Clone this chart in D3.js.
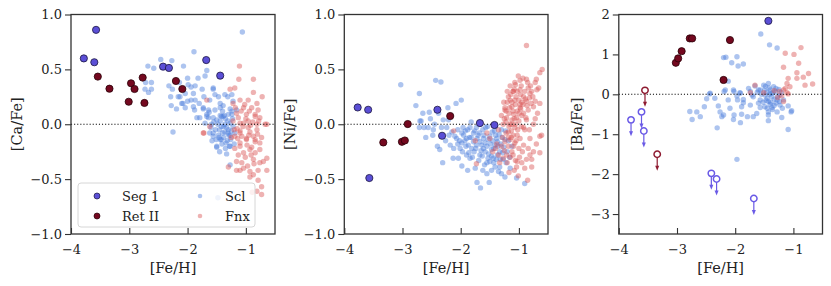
<!DOCTYPE html>
<html>
<head>
<meta charset="utf-8">
<script src="https://cdn.jsdelivr.net/npm/d3@7"></script>
<style>
  body { margin: 0; background: #fff; }
  text { font-family: "DejaVu Serif", serif; fill: #222; }
</style>
</head>
<body>
<div id="chart"></div>
<script>
// ---- data: [ [Fe/H], [X/Fe] ] ----
var fehTicks = [-4, -3, -2, -1];
var xfeTicks = [-1, -0.5, 0, 0.5, 1];
var baTicks = [-3, -2, -1, 0, 1, 2];

var caSeg1 = [[-3.78,0.60],[-3.57,0.86],[-3.60,0.565],[-2.42,0.525],[-2.32,0.513],[-1.68,0.585],[-1.44,0.443]];
var caRet2 = [[-3.54,0.434],[-3.34,0.324],[-2.97,0.373],[-2.91,0.321],[-2.77,0.425],[-3.01,0.205],[-2.74,0.194],[-2.20,0.394],[-2.09,0.321]];
var caScl = [
  [-1.06,0.84],[-1.89,0.66],[-2.46,0.59],[-2.27,0.58],[-2.68,0.53],[-2.58,0.51],[-2.07,0.53],[-1.67,0.49],
  [-2.72,0.38],[-2.62,0.38],[-2.73,0.32],[-2.62,0.32],[-2.67,0.29],[-2.32,0.35],[-2.26,0.32],[-2.14,0.38],
  [-2.0,0.42],[-1.82,0.42],[-1.94,0.34],[-1.75,0.32],[-2.29,0.25],[-2.13,0.25],[-1.94,0.22],[-2.28,0.17],
  [-2.08,0.19],[-2.04,0.15],[-1.87,0.22],[-1.80,0.19],[-1.72,0.25],[-1.56,0.33],[-1.47,0.25],[-1.31,0.25],
  [-1.88,0.13],[-1.73,0.14],[-1.63,0.11],[-1.79,0.06],[-1.64,0.06],[-1.44,0.15],[-1.37,0.08],[-1.50,0.04],
  [-1.24,0.12],[-1.16,0.13],[-2.25,-0.07],[-1.56,-0.08],[-1.44,-0.14],[-1.27,-0.20],
  [-1.99,0.36],[-1.87,0.35],[-1.70,0.44],[-1.56,0.32],[-2.16,0.25],[-2.04,0.28],[-1.90,0.28],[-2.0,0.21],
  [-2.10,0.19],[-2.19,0.14],[-1.90,0.16],[-1.73,0.15],[-1.62,0.22],[-1.53,0.27],[-1.44,0.19],[-1.36,0.27],
  [-1.24,0.27],[-1.53,0.13],[-1.39,0.17],[-1.27,0.14],[-1.64,0.13],[-1.67,0.07],[-1.39,0.07],[-1.84,0.06],
  [-1.24,0.09],[-1.22,0.21],
  [-1.67,0.09],[-1.56,0.06],[-1.42,0.07],[-1.30,0.09],[-1.70,0.01],[-1.59,0.0],[-1.44,0.03],[-1.36,0.0],
  [-1.27,0.01],[-1.62,-0.08],[-1.47,-0.10],[-1.36,-0.07],[-1.27,-0.10],[-1.30,-0.05],[-1.42,-0.14],[-1.50,-0.20],
  [-1.28,-0.20],[-1.27,-0.37],[-1.48,-0.67],[-1.56,-0.11],[-1.50,-0.21],
  [-1.45,-0.05],[-1.33,-0.03],[-1.25,-0.06],[-1.38,-0.12],[-1.32,-0.15],[-1.48,0.0],[-1.40,-0.08],[-1.29,-0.1],
  [-1.35,0.05],[-1.42,-0.02],[-1.52,-0.05],
  [-1.46,-0.12],[-1.41,-0.18],[-1.35,-0.22],[-1.31,-0.08],[-1.26,-0.14],[-1.22,-0.02],[-1.19,-0.08],[-1.34,-0.17],
  [-1.38,-0.02],[-1.44,0.08],[-1.51,-0.14],[-1.55,0.02],[-1.60,-0.03],[-1.20,-0.18],[-1.23,0.05],[-1.31,0.03],
  [-1.40,0.12],[-1.33,-0.27],[-1.45,-0.25],[-1.58,-0.15]
];
var caFnx = [
  [-1.11,0.53],[-1.12,0.41],[-0.87,0.41],[-1.27,0.32],[-1.19,0.33],[-0.87,0.29],[-0.72,0.25],[-1.10,0.22],
  [-0.96,0.22],[-0.81,0.19],[-1.22,0.19],[-1.67,0.22],[-1.04,0.15],[-0.90,0.15],[-0.79,0.13],[-1.16,0.10],
  [-0.99,0.09],[-0.84,0.07],[-0.67,0.0],[-0.81,0.0],[-0.96,0.03],[-1.10,0.01],[-1.22,0.03],[-1.72,-0.08],
  [-1.62,-0.02],[-1.10,-0.06],[-0.93,-0.07],[-1.19,-0.11],[-0.87,-0.11],[-0.73,-0.12],[-0.99,-0.14],[-1.10,-0.20],
  [-0.84,-0.16],[-0.84,0.09],[-0.76,0.06],[-0.64,0.0],[-1.04,0.01],[-1.13,0.06],[-0.96,-0.03],[-0.81,-0.05],
  [-1.10,-0.08],[-1.73,-0.08],[-0.99,-0.13],[-0.84,-0.14],[-0.76,-0.17],[-1.10,-0.17],[-1.19,-0.22],[-0.93,-0.23],
  [-0.76,-0.23],[-1.04,-0.26],[-1.13,-0.28],[-0.84,-0.26],[-1.16,-0.34],[-1.07,-0.35],[-1.30,-0.39],[-1.10,-0.42],
  [-0.93,-0.43],[-0.79,-0.42],[-0.64,-0.42],[-0.76,-0.35],[-1.04,-0.40],[-1.16,-0.42],[-0.87,-0.46],[-0.79,-0.51],
  [-0.73,-0.57],[-0.81,-0.61],[-0.93,-0.48],[-0.70,-0.34],[-0.87,-0.32],[-0.64,-0.31],[-0.89,-0.62],[-0.73,-0.64],
  [-1.05,-0.02],[-1.15,-0.04],[-1.0,0.05],[-0.92,-0.01],[-1.2,-0.05],[-1.08,0.12],[-0.95,-0.1],
  [-1.02,0.18],[-0.94,0.12],[-0.88,0.02],[-1.07,-0.11],[-0.98,-0.19],[-0.90,-0.21],[-0.80,-0.09],[-1.14,-0.13],
  [-1.25,-0.12],[-0.86,-0.36],[-0.97,-0.38],[-1.01,-0.30],[-0.91,-0.28],[-0.78,0.03],[-1.18,0.15]
];

var niSeg1 = [[-3.77,0.153],[-3.59,0.132],[-2.40,0.132],[-2.32,-0.105],[-1.67,0.011],[-1.42,-0.007],[-3.57,-0.49]];
var niRet2 = [[-3.33,-0.166],[-3.01,-0.16],[-2.96,-0.148],[-2.91,0.002],[-2.18,0.075]];
var niScl = [
  [-3.03,0.36],[-2.71,0.28],[-2.43,0.40],[-2.34,0.385],[-2.77,0.17],[-2.08,0.19],[-1.99,0.22],[-2.54,0.11],
  [-2.22,0.15],[-2.68,0.03],[-2.71,-0.03],[-2.63,-0.03],[-2.56,-0.03],[-2.48,-0.10],[-2.45,0.0],[-2.33,-0.03],
  [-2.21,0.04],[-2.30,0.04],[-2.70,0.03],[-2.47,-0.05],[-2.24,-0.03],[-2.15,-0.07],[-2.36,-0.23],[-2.31,-0.35],
  [-2.18,-0.19],[-2.07,-0.13],[-1.96,-0.03],[-1.90,-0.13],[-2.01,-0.22],[-2.04,-0.31],[-1.90,-0.28],[-1.78,-0.08],
  [-1.73,-0.19],[-1.81,-0.22],[-1.67,-0.28],[-1.55,-0.20],[-1.61,-0.13],[-1.50,-0.11],[-1.41,-0.19],[-1.33,-0.25],
  [-1.44,-0.31],[-1.55,-0.35],[-1.33,-0.39],[-1.27,-0.32],[-1.30,-0.05],[-1.24,-0.14],[-1.24,-0.48],[-1.55,-0.45],
  [-1.72,-0.53],[-1.66,-0.58],[-0.90,-0.54],[-1.84,-0.03],[-1.73,-0.03],[-2.10,-0.11],[-1.98,-0.17],[-1.87,-0.19],
  [-1.78,-0.16],[-1.67,-0.16],[-1.61,-0.22],[-1.47,-0.23],[-1.38,-0.13],[-1.84,-0.31],[-2.13,-0.31],[-1.50,-0.34],
  [-1.41,-0.39],[-1.35,-0.43],[-1.51,-0.53],[-1.04,-0.49],
  [-1.95,-0.10],[-1.85,-0.12],[-1.70,-0.10],[-1.62,-0.05],[-1.58,-0.17],[-1.45,-0.15],[-1.42,-0.06],[-1.36,-0.20],
  [-1.52,-0.27],[-1.65,-0.24],[-1.77,-0.25],[-1.92,-0.06],[-2.05,-0.18],[-1.28,-0.26],[-1.22,-0.35],[-1.39,-0.32],
  [-2.05,-0.05],[-1.98,-0.08],[-1.93,-0.15],[-1.88,-0.05],[-1.82,-0.12],[-1.76,-0.06],[-1.72,-0.13],[-1.68,-0.08],
  [-1.64,-0.19],[-1.60,-0.10],[-1.57,-0.03],[-1.53,-0.14],[-1.49,-0.18],[-1.46,-0.07],[-1.43,-0.22],[-1.40,-0.10],
  [-1.37,-0.16],[-1.34,-0.09],[-1.31,-0.18],[-1.29,-0.12],[-1.26,-0.21],[-1.23,-0.06],[-1.20,-0.25],[-1.18,-0.15],
  [-1.97,-0.25],[-1.91,-0.20],[-1.86,-0.26],[-1.80,-0.30],[-1.74,-0.22],[-1.69,-0.33],[-1.63,-0.29],[-1.58,-0.25],
  [-1.53,-0.31],[-1.47,-0.29],[-1.43,-0.35],[-1.37,-0.28],[-1.32,-0.32],[-2.02,-0.15],[-2.12,-0.22],[-2.20,-0.10],
  [-2.26,-0.15],[-1.75,-0.40],[-1.62,-0.42],[-1.47,-0.42],[-1.30,-0.45],[-1.16,-0.30],[-1.12,-0.20],[-1.15,-0.40],
  [-2.40,-0.20],[-2.60,-0.12],[-2.52,0.05],[-2.38,0.10],[-2.65,0.10],[-1.59,-0.37],[-1.98,-0.38],[-1.88,-0.42],
  [-1.82,0.02],[-1.66,0.0],[-1.54,-0.02],[-1.40,-0.02]
];
var niFnx = [
  [-0.87,0.717],[-0.60,0.50],[-0.64,0.47],[-1.15,0.35],[-1.07,0.38],[-0.98,0.40],[-0.87,0.41],[-0.72,0.38],
  [-1.10,0.30],[-0.98,0.315],[-0.84,0.33],[-0.69,0.315],[-0.92,0.25],[-0.81,0.28],[-1.07,0.22],[-0.87,0.21],
  [-0.72,0.21],[-0.98,0.18],[-1.12,0.16],[-0.64,0.19],[-1.24,0.15],
  [-1.24,0.13],[-1.10,0.12],[-0.98,0.15],[-0.84,0.13],[-0.75,0.16],[-1.21,0.06],[-1.12,0.04],[-1.04,0.06],
  [-1.15,0.0],[-1.07,-0.03],[-1.18,-0.07],[-1.10,-0.10],[-1.15,-0.14],[-1.07,-0.17],[-1.18,-0.20],[-1.12,-0.25],
  [-1.21,-0.28],[-1.27,-0.31],[-1.33,-0.35],[-0.81,-0.28],[-0.75,-0.25],[-0.87,-0.32],[-0.95,-0.35],[-1.04,-0.39],
  [-0.78,-0.39],[-1.01,-0.47],[-0.61,-0.10],[-1.38,-0.18],[-1.73,-0.36],[-1.50,-0.13],[-2.12,-0.06],
  [-1.75,-0.15],[-1.55,-0.08],[-1.45,-0.25],[-1.35,-0.05],[-0.87,0.04],[-0.75,0.0],[-0.92,-0.03],[-0.81,-0.13],
  [-0.92,-0.19],[-1.03,-0.34],[-0.85,-0.51],[-0.64,-0.11],[-0.64,-0.26],
  [-1.05,0.25],[-1.15,0.22],[-1.0,0.1],[-1.08,0.05],[-1.2,0.2],[-1.02,-0.05],[-1.13,-0.12],[-0.95,0.08],
  [-1.1,0.3],[-0.93,0.18],[-1.17,0.1],[-1.05,-0.15],[-1.0,-0.22],[-1.22,-0.08],[-0.9,-0.05],[-1.25,0.05],
  [-0.97,0.27],[-1.06,0.36],[-0.82,0.24],[-0.78,0.3],
  [-1.20,0.30],[-1.14,0.27],[-1.08,0.32],[-1.03,0.30],[-0.96,0.35],[-0.90,0.30],[-0.85,0.38],[-0.80,0.35],
  [-0.76,0.25],[-1.18,0.25],[-1.12,0.20],[-1.06,0.18],[-1.00,0.22],[-0.95,0.20],[-0.89,0.23],[-0.86,0.17],
  [-1.22,0.12],[-1.16,0.15],[-1.09,0.09],[-1.03,0.12],[-0.97,0.14],[-0.92,0.10],[-0.88,0.06],[-1.27,0.0],
  [-1.22,0.02],[-1.17,-0.02],[-1.12,0.0],[-1.06,0.0],[-1.00,0.03],[-0.96,-0.02],[-1.28,-0.12],[-1.24,-0.16],
  [-1.18,-0.12],[-1.13,-0.06],[-1.09,-0.20],[-1.03,-0.10],[-0.98,-0.13],[-0.94,-0.25],[-1.25,-0.24],[-1.20,-0.35],
  [-1.15,-0.30],[-1.10,-0.28],[-1.06,-0.33],[-0.99,-0.30],[-1.30,-0.20],[-1.35,-0.28],[-1.40,-0.22],[-1.17,-0.44],
  [-1.08,-0.42],[-0.90,-0.40],[-0.84,-0.22],[-0.70,-0.18],[-0.68,0.10],[-0.72,0.05],[-0.79,0.19],[-1.26,0.20],
  [-1.30,0.08],[-0.82,-0.05],[-0.78,-0.32],[-0.93,0.42],[-1.01,0.44],[-0.70,0.41],[-0.66,0.33]
];

var baSeg1 = [[-1.43,1.84]];
var baSeg1Lim = [[-3.79,-0.64],[-3.61,-0.44],[-3.57,-0.92],[-2.41,-1.98],[-2.32,-2.12],[-1.68,-2.61]];
var baRet2 = [[-3.02,0.79],[-2.98,0.90],[-2.92,1.08],[-2.78,1.40],[-2.74,1.40],[-2.09,1.36],[-2.20,0.36]];
var baRet2Lim = [[-3.55,0.10],[-3.34,-1.50]];
var baScl = [
  [-1.56,1.51],[-1.41,1.24],[-1.28,1.16],[-2.16,0.93],[-1.97,0.94],[-2.06,0.79],[-1.95,0.71],[-1.86,0.76],
  [-2.19,0.07],[-2.12,0.33],[-2.44,0.01],[-2.49,-0.11],[-2.53,-0.31],[-2.78,-0.43],[-2.66,-0.44],[-2.60,-0.56],
  [-2.74,-0.63],[-2.29,-0.29],[-2.26,-0.44],[-2.23,-0.56],[-2.31,-0.84],[-2.09,-0.35],[-2.02,-0.52],[-1.91,-0.71],
  [-1.89,-0.50],[-1.79,-0.56],[-1.69,-0.56],[-1.96,-0.14],[-1.86,-0.21],[-2.02,0.07],[-1.91,0.03],[-1.77,0.15],
  [-1.71,-0.02],[-1.66,0.21],[-1.57,0.11],[-1.43,-0.66],[-1.09,-0.88],[-1.04,-0.44],[-1.20,-0.58],[-2.20,0.92],
  [-2.43,0.03],[-2.35,-0.10],[-2.17,0.11],[-2.12,-0.14],[-2.03,0.11],[-1.97,-0.04],[-1.92,0.04],[-1.86,-0.13],
  [-1.74,0.07],[-1.69,-0.06],[-1.60,0.11],[-1.57,-0.14],[-1.49,-0.02],[-1.51,0.23],[-1.43,0.27],[-1.34,0.19],
  [-1.40,0.11],[-1.31,0.07],[-1.37,-0.06],[-1.28,-0.14],[-1.43,-0.18],[-1.49,-0.31],[-1.57,-0.33],[-1.37,-0.33],
  [-1.23,-0.27],[-1.17,-0.14],[-1.23,-0.02],[-1.43,-0.44],[-1.28,-0.44],[-1.63,-0.48],[-1.03,-0.41],[-1.09,-0.29],
  [-2.20,-0.52],[-2.03,-0.63],[-1.74,-0.27],[-1.89,-0.31],[-1.97,-1.63],[-1.43,-0.52],
  [-1.46,0.05],[-1.38,0.02],[-1.33,-0.12],[-1.45,-0.10],[-1.30,-0.22],[-1.52,-0.20],[-1.40,-0.25],[-1.25,0.12],
  [-1.55,0.0],[-1.50,0.10],[-1.47,-0.15],[-1.42,0.16],[-1.39,-0.20],[-1.35,0.05],[-1.33,-0.28],[-1.30,0.15],
  [-1.27,-0.05],[-1.24,-0.18],[-1.21,0.05],[-1.36,-0.38],[-1.45,-0.35],[-1.60,-0.22],[-1.62,0.05],[-1.19,-0.35],
  [-1.41,0.00],[-1.48,0.20]
];
var baFnx = [
  [-0.87,1.17],[-1.14,1.03],[-0.99,1.0],[-0.91,0.78],[-1.17,0.68],[-0.94,0.54],[-0.74,0.52],[-0.67,0.26],
  [-0.80,0.23],[-0.94,0.40],[-1.09,0.40],[-1.11,0.27],[-1.06,0.19],[-1.17,0.11],[-1.11,0.04],[-1.20,-0.04],
  [-1.17,-0.18],[-1.51,0.04],[-1.66,0.23],[-1.74,0.04],[-0.83,0.43],[-1.24,0.07],[-1.09,0.01],[-1.14,0.15],
  [-1.27,-0.08],[-1.33,0.09]
];

// ---- layout ----
var W = 831, H = 286, yTop = 14.5, yBot = 234;
var cScl = "#4a7ddc", cFnx = "#d95555", cSeg = "#5b4fd6", cRet = "#74081f";
var cSegLim = "#6a5ae6", cRetLim = "#8e1a30";

var panels = [
  { x0: 71, x1: 275, ydom: [-1, 1], yticks: xfeTicks, fmt: d3.format(".1f"), ylab: "[Ca/Fe]", lx: 54,
    seg: caSeg1, ret: caRet2, scl: caScl, fnx: caFnx, legend: true },
  { x0: 344.3, x1: 548, ydom: [-1, 1], yticks: xfeTicks, fmt: d3.format(".1f"), ylab: "[Ni/Fe]", lx: 54,
    seg: niSeg1, ret: niRet2, scl: niScl, fnx: niFnx },
  { x0: 618.8, x1: 822.5, ydom: [-3.5, 2], yticks: baTicks, fmt: d3.format("d"), ylab: "[Ba/Fe]", lx: 42,
    seg: baSeg1, ret: baRet2, scl: baScl, fnx: baFnx, segLim: baSeg1Lim, retLim: baRet2Lim }
];

var svg = d3.select("#chart").append("svg")
  .attr("width", W)
  .attr("height", H);

panels.forEach(function(p) {
  var x = d3.scaleLinear().domain([-4, -0.5]).range([p.x0, p.x1]);
  var y = d3.scaleLinear().domain(p.ydom).range([yBot, yTop]);
  var g = svg.append("g");

  // field dwarfs
  g.append("g").selectAll("circle").data(p.scl).enter().append("circle")
    .attr("cx", function(d) { return x(d[0]); })
    .attr("cy", function(d) { return y(d[1]); })
    .attr("r", 2.7)
    .style("fill", cScl).style("opacity", 0.45);
  g.append("g").selectAll("circle").data(p.fnx).enter().append("circle")
    .attr("cx", function(d) { return x(d[0]); })
    .attr("cy", function(d) { return y(d[1]); })
    .attr("r", 2.7)
    .style("fill", cFnx).style("opacity", 0.45);

  // zero line
  g.append("line")
    .attr("x1", p.x0).attr("x2", p.x1)
    .attr("y1", y(0)).attr("y2", y(0))
    .style("stroke", "#000").style("stroke-width", 1.1)
    .style("stroke-dasharray", "1.1,2");

  // upper limits
  function limits(data, col) {
    var lg = g.append("g").selectAll("g").data(data || []).enter().append("g")
      .attr("transform", function(d) { return "translate(" + x(d[0]) + "," + y(d[1]) + ")"; });
    lg.append("line").attr("x1", 0).attr("x2", 0).attr("y1", 3.3).attr("y2", 12.5)
      .style("stroke", col).style("stroke-width", 1.2);
    lg.append("path").attr("d", "M-2,11.5 L2,11.5 L0,16.5 Z").style("fill", col);
    lg.append("circle").attr("r", 3.2)
      .style("fill", "#fff").style("stroke", col).style("stroke-width", 1.5);
  }
  limits(p.segLim, cSegLim);
  limits(p.retLim, cRetLim);

  // UFD stars
  g.append("g").selectAll("circle").data(p.ret).enter().append("circle")
    .attr("cx", function(d) { return x(d[0]); })
    .attr("cy", function(d) { return y(d[1]); })
    .attr("r", 3.6)
    .style("fill", cRet).style("stroke", "#2a0008").style("stroke-width", 0.8);
  g.append("g").selectAll("circle").data(p.seg).enter().append("circle")
    .attr("cx", function(d) { return x(d[0]); })
    .attr("cy", function(d) { return y(d[1]); })
    .attr("r", 3.6)
    .style("fill", cSeg).style("stroke", "#1c1640").style("stroke-width", 0.8);

  // axes
  var ax = g.append("g").attr("transform", "translate(" + p.x0 + ",0)")
    .call(d3.axisLeft(y).tickValues(p.yticks).tickFormat(p.fmt).tickSize(6).tickPadding(3));
  var bx = g.append("g").attr("transform", "translate(0," + yBot + ")")
    .call(d3.axisBottom(x).tickValues(fehTicks).tickFormat(d3.format("d")).tickSize(-6).tickPadding(11));
  [ax, bx].forEach(function(a) {
    a.select(".domain").remove();
    a.selectAll("line").style("stroke", "#333").style("stroke-width", 1.1);
    a.selectAll("text").style("font-family", "DejaVu Serif").style("font-size", "13px").style("fill", "#222");
  });

  g.append("rect")
    .attr("x", p.x0).attr("y", yTop)
    .attr("width", p.x1 - p.x0).attr("height", yBot - yTop)
    .style("fill", "none").style("stroke", "#333").style("stroke-width", 1.3);

  g.append("text")
    .attr("x", (p.x0 + p.x1) / 2).attr("y", 273)
    .attr("text-anchor", "middle")
    .style("font-size", "14.5px")
    .text("[Fe/H]");
  g.append("text")
    .attr("transform", "translate(" + (p.x0 - p.lx) + "," + ((yTop + yBot) / 2) + ") rotate(-90)")
    .attr("text-anchor", "middle")
    .attr("dy", "0.35em")
    .style("font-size", "14.5px")
    .text(p.ylab);

  if (p.legend) {
    var L = g.append("g");
    L.append("rect")
      .attr("x", 78).attr("y", 183).attr("width", 177).attr("height", 44)
      .attr("rx", 3)
      .style("fill", "#fff").style("fill-opacity", 0.8)
      .style("stroke", "#d6d6d6").style("stroke-width", 1);
    var items = [
      { name: "Seg 1", col: cSeg, op: 1, r: 3, edge: "#1c1640", mx: 97, my: 196 },
      { name: "Ret II", col: cRet, op: 1, r: 3, edge: "#2a0008", mx: 97, my: 216 },
      { name: "Scl", col: cScl, op: 0.45, r: 2.3, edge: "none", mx: 200, my: 196 },
      { name: "Fnx", col: cFnx, op: 0.45, r: 2.3, edge: "none", mx: 200, my: 216 }
    ];
    items.forEach(function(it) {
      L.append("circle").attr("cx", it.mx).attr("cy", it.my).attr("r", it.r)
        .style("fill", it.col).style("opacity", it.op)
        .style("stroke", it.edge).style("stroke-width", 0.7);
      L.append("text").attr("x", it.mx + 25).attr("y", it.my).attr("dy", "0.35em")
        .style("font-size", "13px").text(it.name);
    });
  }
});
</script>
</body>
</html>
